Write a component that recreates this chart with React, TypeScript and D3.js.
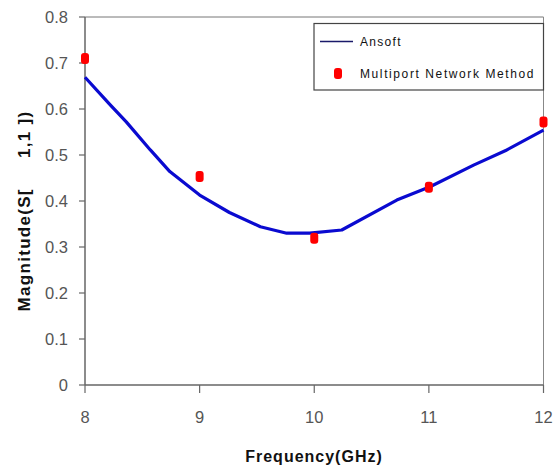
import React from "react";
import * as d3 from "d3";

const ansoftFreq = [8, 8.22, 8.36, 8.57, 8.74, 9.0, 9.26, 9.53, 9.76, 9.96, 10.24, 10.72, 11.01, 11.39, 11.68, 12];
const ansoftMag = [0.669, 0.609, 0.572, 0.511, 0.464, 0.413, 0.375, 0.344, 0.33, 0.33, 0.337, 0.402, 0.431, 0.478, 0.511, 0.554];
const mpnFreq = [8, 9, 10, 11, 12];
const mpnMag = [0.71, 0.453, 0.319, 0.43, 0.572];
const xTicks = [8, 9, 10, 11, 12];
const yTicks = [0, 0.1, 0.2, 0.3, 0.4, 0.5, 0.6, 0.7, 0.8];

const W = 559, H = 474;
const L = 85, R = 543.5, T = 17, B = 385;
const FONT = "'Liberation Sans', Arial, sans-serif";

export default function App() {
  const x = d3.scaleLinear().domain([8, 12]).range([L, R]);
  const y = d3.scaleLinear().domain([0, 0.8]).range([B, T]);
  const line = d3.line<number>().x((_, i) => x(ansoftFreq[i])).y((d) => y(d));
  const axisColor = "#666";
  const tickText = "#555";
  return (
    <svg width={W} height={H} style={{ position: "absolute", left: 0, top: 0, background: "#fff" }} fontFamily={FONT}>
      <rect x={0} y={0} width={W} height={H} fill="#fff" />
      {/* frame */}
      <line x1={L} y1={T} x2={R} y2={T} stroke="#777" strokeWidth={1} />
      <line x1={R} y1={T} x2={R} y2={B} stroke="#888" strokeWidth={1} />
      {/* y axis */}
      <line x1={L} y1={T} x2={L} y2={B} stroke={axisColor} strokeWidth={1.5} />
      {yTicks.map((t) => (
        <g key={"y" + t}>
          <line x1={L - 6} x2={L} y1={y(t)} y2={y(t)} stroke={axisColor} strokeWidth={1.2} />
          <text x={68} y={y(t) + 5.5} textAnchor="end" fontSize={16.5} fill={tickText}>
            {t === 0 ? "0" : d3.format(".1f")(t)}
          </text>
        </g>
      ))}
      {/* x axis */}
      <line x1={L} y1={B} x2={R} y2={B} stroke={axisColor} strokeWidth={1.5} />
      {xTicks.map((t) => (
        <g key={"x" + t}>
          <line x1={x(t)} x2={x(t)} y1={B} y2={B + 8} stroke={axisColor} strokeWidth={1.2} />
          <text x={x(t)} y={423} textAnchor="middle" fontSize={16.5} fill={tickText}>
            {t}
          </text>
        </g>
      ))}
      {/* axis titles */}
      <text x={314} y={462} textAnchor="middle" fontSize={16} fontWeight="bold" fill="#111" letterSpacing={1}>
        Frequency(GHz)
      </text>
      <text
        transform={`translate(30,${211}) rotate(-90)`}
        textAnchor="middle"
        fontSize={17}
        fontWeight="bold"
        fill="#111"
        letterSpacing={1.3}
        style={{ whiteSpace: "pre" }}
      >
        {"Magnitude(S[     1,1 ])"}
      </text>
      {/* Ansoft line */}
      <path d={line(ansoftMag) || ""} fill="none" stroke="#0a0ad0" strokeWidth={3.2} strokeLinejoin="round" />
      {/* MPN points */}
      {mpnMag.map((v, i) => (
        <rect key={"p" + i} x={x(mpnFreq[i]) - 4} y={y(v) - 5.5} width={8} height={11} rx={3} fill="#ff0000" />
      ))}
      {/* legend */}
      <rect x={314} y={23.5} width={229.5} height={66.5} fill="#fff" stroke="#444" strokeWidth={1.2} />
      <line x1={320} x2={353} y1={41.5} y2={41.5} stroke="#1a1a6a" strokeWidth={1.5} />
      <text x={360} y={45.5} fontSize={12} fill="#111" letterSpacing={1.3}>Ansoft</text>
      <rect x={334} y={68} width={8} height={11} rx={3} fill="#ff0000" />
      <text x={360} y={77.5} fontSize={12} fill="#111" letterSpacing={1.6}>Multiport Network Method</text>
    </svg>
  );
}
